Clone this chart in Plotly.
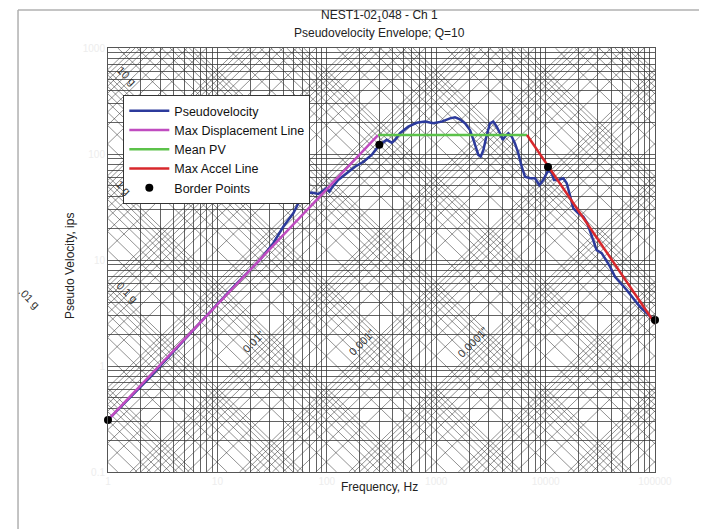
import numpy as np
import plotly.graph_objects as go

# ---------------- data ----------------
freq_pv = [1, 2.42, 6.93, 14.5, 24.5, 32.4, 40.0, 49.4, 56.9, 63.2, 72.8, 83.6, 92.9, 98.4,
           105.5, 113, 127, 152, 181, 216, 257, 286, 302, 353, 392, 420, 467, 556, 663,
           790, 940, 1122, 1337, 1486, 1651, 1834, 2037, 2217, 2428, 2552, 2698, 2897,
           3104, 3326, 3573, 3829, 4055, 4256, 4561, 4898, 5248, 5626, 6050, 6486, 7198,
           8000, 8753, 9523, 10590, 11370, 11930, 13060, 14520, 15600, 16720, 17920,
           19910, 22130, 24060, 26380, 29290, 32560, 38800, 43100, 55100, 72900, 93300,
           100000]
pv = [0.31, 0.787, 2.55, 5.81, 10.0, 14.4, 20.6, 27.6, 36.8, 42.0, 43.2, 42.0, 45.1, 47.4,
      44.1, 49.2, 56.9, 65.8, 75.9, 84.6, 98.0, 113, 122, 136, 128, 136, 157, 181, 197,
      202, 195, 202, 217, 222, 212, 195, 168, 131, 98, 94.5, 109, 151,
      195, 202, 181, 157, 136, 146, 157, 146, 126, 102, 75.9, 61.1, 59.0,
      59.0, 51.0, 56.9, 70.6, 65.8, 56.9, 56.9, 59.0, 53.0, 41.0, 30.7,
      27.6, 25.6, 22.2, 16.6, 12.4, 11.6, 8.65, 6.95, 5.21, 3.62, 2.82,
      2.66]

disp_line_freq = [1, 294]
disp_line_pv = [0.31, 151]
mean_pv_freq = [294, 6760]
mean_pv_val = [151, 151]
accel_line_freq = [6760, 100000]
accel_line_pv = [151, 2.52]
border_freq = [1, 302, 10520, 100000]
border_pv = [0.31, 122, 75.3, 2.72]

x_decades = [1, 10, 100, 1000, 10000, 100000]
y_decades = [0.1, 1, 10, 100, 1000]
x_tick_labels = ["1", "10", "100", "1000", "10000", "100000"]
y_tick_labels = ["0.1", "1", "10", "100", "1000"]

accel_labels = ["10 g", "1 g", "0.1 g"]
accel_label_f = [1.49, 1.40, 1.49]
accel_label_v = [545, 48.0, 4.99]
disp_labels = ['0.01"', '0.001"', '0.0001"']
disp_label_f = [21.2, 210, 2170]
disp_label_v = [1.68, 1.68, 1.68]

title_1 = "NEST1-02<sub>1</sub>048 - Ch 1"
title_2 = "Pseudovelocity Envelope; Q=10"

# ---------------- tripartite grid ----------------
G = 386.09
lx0, lx1 = np.log10(x_decades[0]), np.log10(x_decades[-1])
ly0, ly1 = np.log10(y_decades[0]), np.log10(y_decades[-1])
gx, gy = [], []
for k in range(-5, 8):
    for m in range(1, 10):
        # constant acceleration: logV = c - logf
        c = np.log10(m * 10.0 ** k * G / (2 * np.pi))
        lo, hi = max(lx0, c - ly1), min(lx1, c - ly0)
        if lo < hi:
            gx += [10 ** lo, 10 ** hi, None]
            gy += [10 ** (c - lo), 10 ** (c - hi), None]
    for m in range(1, 10):
        # constant displacement: logV = c + logf
        c = np.log10(2 * np.pi * m * 10.0 ** (k - 5))
        lo, hi = max(lx0, ly0 - c), min(lx1, ly1 - c)
        if lo < hi:
            gx += [10 ** lo, 10 ** hi, None]
            gy += [10 ** (c + lo), 10 ** (c + hi), None]

xgrid = [m * d for d in x_decades[:-1] for m in range(1, 10)] + [x_decades[-1]]
ygrid = [m * d for d in y_decades[:-1] for m in range(1, 10)] + [y_decades[-1]]
xtext = [x_tick_labels[x_decades.index(v)] if v in x_decades else "" for v in xgrid]
ytext = [y_tick_labels[y_decades.index(v)] if v in y_decades else "" for v in ygrid]

GRID = "rgba(55,55,55,0.78)"
FONT = "Liberation Sans, Arial, sans-serif"

fig = go.Figure()
fig.add_trace(go.Scatter(x=gx, y=gy, mode="lines", line=dict(color=GRID, width=0.7),
                         hoverinfo="skip", showlegend=False))
fig.add_trace(go.Scatter(x=freq_pv, y=pv, mode="lines", name="Pseudovelocity",
                         line=dict(color="#2c3a9c", width=2.5)))
fig.add_trace(go.Scatter(x=disp_line_freq, y=disp_line_pv, mode="lines",
                         name="Max Displacement Line",
                         line=dict(color="#c04cc0", width=2.5)))
fig.add_trace(go.Scatter(x=mean_pv_freq, y=mean_pv_val, mode="lines", name="Mean PV",
                         line=dict(color="#5cc24a", width=2.5)))
fig.add_trace(go.Scatter(x=accel_line_freq, y=accel_line_pv, mode="lines",
                         name="Max Accel Line",
                         line=dict(color="#d8282c", width=2.5)))
fig.add_trace(go.Scatter(x=border_freq, y=border_pv, mode="markers", name="Border Points",
                         marker=dict(color="black", size=8), cliponaxis=False))

LBL = dict(size=11, color="#333333", family=FONT)
TXT = dict(size=12, color="#222222", family=FONT)
ann = []
for t, f, v in zip(accel_labels, accel_label_f, accel_label_v):
    ann.append(dict(x=np.log10(f), y=np.log10(v), xref="x", yref="y", text=t,
                    showarrow=False, textangle=45, xanchor="center", yanchor="middle",
                    font=LBL))
ann.append(dict(x=-0.1444, y=0.41, xref="paper", yref="paper", text=".01 g",
                showarrow=False, textangle=45, xanchor="center", yanchor="middle", font=LBL))
for t, f, v in zip(disp_labels, disp_label_f, disp_label_v):
    ann.append(dict(x=np.log10(f), y=np.log10(v), xref="x", yref="y", text=t,
                    showarrow=False, textangle=-45, xanchor="center", yanchor="middle",
                    font=LBL))
ann.append(dict(x=0.497, y=1.0745, xref="paper", yref="paper", text=title_1, showarrow=False,
                xanchor="center", yanchor="middle", font=TXT))
ann.append(dict(x=0.497, y=1.0365, xref="paper", yref="paper", text=title_2, showarrow=False,
                xanchor="center", yanchor="middle", font=TXT))
ann.append(dict(x=-0.0695, y=0.488, xref="paper", yref="paper", text="Pseudo Velocity, ips",
                showarrow=False, textangle=-90, xanchor="center", yanchor="middle", font=TXT))
ann.append(dict(x=0.497, y=-0.0354, xref="paper", yref="paper", text="Frequency, Hz",
                showarrow=False, xanchor="center", yanchor="middle", font=TXT))

fig.update_layout(
    width=707, height=529,
    margin=dict(l=100, r=60, t=40, b=65),
    paper_bgcolor="white", plot_bgcolor="white",
    font=dict(family=FONT, size=12, color="#222222"),
    annotations=ann,
    showlegend=True,
    legend=dict(x=0.028, y=0.889, xanchor="left", yanchor="top",
                bgcolor="white", bordercolor="#333333", borderwidth=1,
                font=dict(size=12.5, family=FONT, color="#111111"),
                itemwidth=40, tracegroupgap=0),
    shapes=[
        dict(type="line", xref="paper", yref="paper", x0=-0.1645, x1=1.2, y0=1.0895, y1=1.0895,
             line=dict(color="#b0b0b0", width=1.5)),
        dict(type="line", xref="paper", yref="paper", x0=-0.1645, x1=-0.1645, y0=-0.2, y1=1.0895,
             line=dict(color="#b0b0b0", width=1.5)),
    ],
)
fig.update_xaxes(type="log", range=[lx0, lx1], tickvals=xgrid, ticktext=xtext,
                 showgrid=True, gridcolor=GRID, gridwidth=0.7, zeroline=False,
                 showline=True, linecolor="#555555", linewidth=1, mirror=True,
                 ticks="", tickfont=dict(size=10, color="#ededed"))
fig.update_yaxes(type="log", range=[ly0, ly1], tickvals=ygrid, ticktext=ytext,
                 showgrid=True, gridcolor=GRID, gridwidth=0.7, zeroline=False,
                 showline=True, linecolor="#555555", linewidth=1, mirror=True,
                 ticks="", tickfont=dict(size=10, color="#ededed"))

fig.write_html("out.html")
